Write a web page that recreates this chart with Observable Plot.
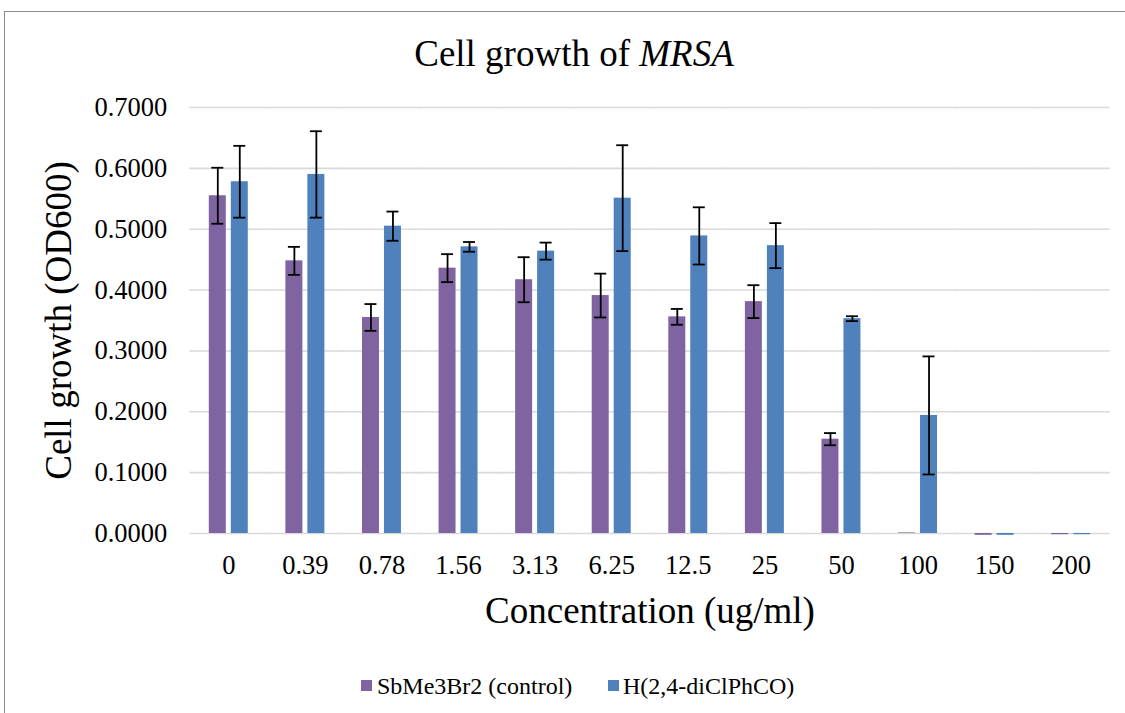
<!DOCTYPE html>
<html>
<head>
<meta charset="utf-8">
<script src="https://cdn.jsdelivr.net/npm/d3@7"></script>
<script src="https://cdn.jsdelivr.net/npm/@observablehq/plot@0.6"></script>
<style>
  body { margin: 0; background: #fff; }
  #wrap { position: relative; width: 1125px; height: 713px; overflow: hidden; font-family: "Liberation Serif", "Times New Roman", serif; color: #000; background: #fff; }
  #frame { position: absolute; left: 4px; top: 11px; right: -4px; bottom: -4px; border-top: 1.5px solid #8c8c8c; border-left: 1.5px solid #8c8c8c; }
  #title { position: absolute; left: 0; width: 1148px; top: 35px; text-align: center; font-size: 37px; line-height: 37px; white-space: nowrap; }
  #chart { position: absolute; left: 0; top: 90px; }
  .leg { position: absolute; top: 674px; font-size: 24px; line-height: 24px; white-space: nowrap; }
  .sw { position: absolute; width: 11px; height: 11px; top: 680px; }
</style>
</head>
<body>
<div id="wrap">
  <div id="frame"></div>
  <div id="title">Cell growth of <i>MRSA</i></div>
  <div id="chart"></div>
  <div class="sw" id="sw0" style="left:361px;"></div>
  <div class="leg" id="lg0" style="left:377px;"></div>
  <div class="sw" id="sw1" style="left:608px;"></div>
  <div class="leg" id="lg1" style="left:623px;"></div>
</div>
<script>
const concentrations = ["0", "0.39", "0.78", "1.56", "3.13", "6.25", "12.5", "25", "50", "100", "150", "200"];
const series = ["SbMe3Br2 (control)", "H(2,4-diClPhCO)"];
const colors = ["#8064A2", "#4F81BD"];
const controlMean  = [0.555, 0.448, 0.355, 0.436, 0.417, 0.391, 0.356, 0.381, 0.155, 0.001, -0.003, -0.002];
const controlErr   = [0.046, 0.023, 0.022, 0.023, 0.037, 0.036, 0.013, 0.027, 0.010, 0, 0, 0];
const compoundMean = [0.578, 0.590, 0.505, 0.471, 0.464, 0.551, 0.489, 0.473, 0.353, 0.194, -0.003, -0.002];
const compoundErr  = [0.059, 0.071, 0.024, 0.008, 0.014, 0.087, 0.047, 0.037, 0.004, 0.097, 0, 0];
const yTicks = [0, 0.1, 0.2, 0.3, 0.4, 0.5, 0.6, 0.7];
const xTitle = "Concentration (ug/ml)";
const yTitle = "Cell growth (OD600)";

const rows = [];
concentrations.forEach((c, i) => {
  rows.push({conc: c, series: series[0], value: controlMean[i], err: controlErr[i]});
  rows.push({conc: c, series: series[1], value: compoundMean[i], err: compoundErr[i]});
});
const errRows = rows.filter(d => d.err > 0);

const chart = Plot.plot({
  width: 1125,
  height: 560,
  marginTop: 17,
  marginBottom: 117,
  marginLeft: 190,
  marginRight: 16,
  style: {fontFamily: '"Liberation Serif", "Times New Roman", serif', fontSize: "26.5px", color: "#000", background: "transparent", overflow: "visible"},
  fx: {domain: concentrations, paddingInner: 0.491, paddingOuter: 0.2455, round: false, label: null, tickSize: 0, tickPadding: 22},
  x: {domain: series, paddingInner: 0.227, paddingOuter: 0, round: false, axis: null},
  y: {domain: [0, 0.7], ticks: yTicks, tickFormat: d3.format(".4f"), tickSize: 0, tickPadding: 42, label: null},
  color: {domain: series, range: colors},
  marks: [
    Plot.ruleY(yTicks, {stroke: "#d9d9d9", strokeWidth: 1.6, insetLeft: -19.5, insetRight: -19.5}),
    Plot.barY(rows, {fx: "conc", x: "series", y: "value", fill: "series"}),
    Plot.ruleX(errRows, {fx: "conc", x: "series", y1: d => d.value - d.err, y2: d => d.value + d.err, stroke: "#000", strokeWidth: 1.8}),
    Plot.tickY(errRows, {fx: "conc", x: "series", y: d => d.value - d.err, stroke: "#000", strokeWidth: 1.8, insetLeft: 2.5, insetRight: 2.5}),
    Plot.tickY(errRows, {fx: "conc", x: "series", y: d => d.value + d.err, stroke: "#000", strokeWidth: 1.8, insetLeft: 2.5, insetRight: 2.5}),
    Plot.text([xTitle], {text: d => d, frameAnchor: "bottom", dy: 89, lineAnchor: "bottom", fontSize: 37, fill: "#000", facet: "super"}),
    Plot.text([yTitle], {text: d => d, frameAnchor: "left", textAnchor: "middle", dx: -138, rotate: -90, lineAnchor: "bottom", fontSize: 37, fill: "#000", facet: "super"})
  ]
});
document.getElementById("chart").appendChild(chart);
series.forEach((s, i) => {
  document.getElementById("sw" + i).style.background = colors[i];
  document.getElementById("lg" + i).textContent = s;
});
</script>
</body>
</html>
